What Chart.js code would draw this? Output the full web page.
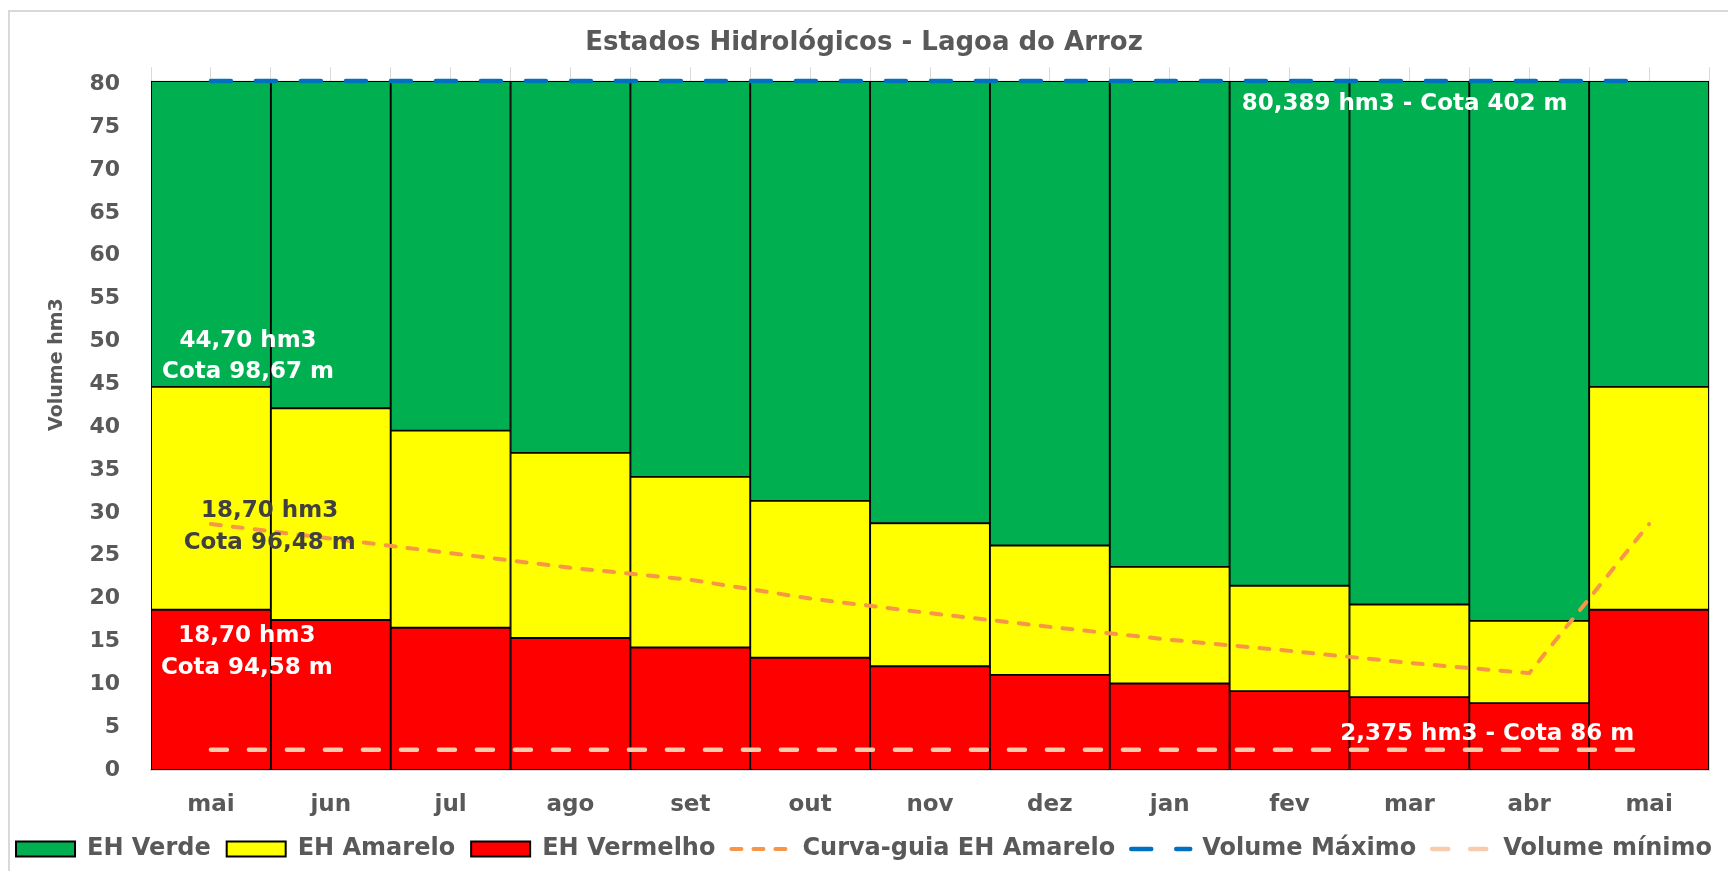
<!DOCTYPE html>
<html>
<head>
<meta charset="utf-8">
<script src="https://cdn.jsdelivr.net/npm/chart.js@4"></script>
<style>
  html, body { margin: 0; padding: 0; background: #fff; overflow: hidden; }
  canvas { display: block; }
</style>
</head>
<body>
<canvas id="ehChart" width="1728" height="871"></canvas>
<script>
// months (May to May)
const meses = ['mai', 'jun', 'jul', 'ago', 'set', 'out', 'nov', 'dez', 'jan', 'fev', 'mar', 'abr', 'mai'];

// stacked states (hm3)
const ehVermelho = [18.70, 17.5, 16.6, 15.4, 14.3, 13.1, 12.1, 11.1, 10.1, 9.2, 8.5, 7.8, 18.70];
const ehAmarelo = [26.00, 24.7, 23.0, 21.6, 19.9, 18.3, 16.7, 15.1, 13.6, 12.3, 10.8, 9.6, 26.00];
const ehVerde = [35.689, 38.189, 40.789, 43.389, 46.189, 48.989, 51.589, 54.189, 56.689, 58.889, 61.089, 62.989, 35.689];

// reference lines
const curvaGuia = [28.70, 27.0, 25.3, 23.6, 22.2, 20.0, 18.3, 16.7, 15.2, 13.9, 12.5, 11.3, 28.70];
const volumeMaximo = [80.389, 80.389, 80.389, 80.389, 80.389, 80.389, 80.389, 80.389, 80.389, 80.389, 80.389, 80.389, 80.389];
const volumeMinimo = [2.375, 2.375, 2.375, 2.375, 2.375, 2.375, 2.375, 2.375, 2.375, 2.375, 2.375, 2.375, 2.375];

const yMax = 82;
const yStep = 5;

const cinza = '#595959';
Chart.defaults.font.family = "'DejaVu Sans', sans-serif";

// text notes: category index / value where each one sits
const notas = [
    { text: '44,70 hm3', x: 0.31, y: 50.1, color: '#ffffff' },
    { text: 'Cota 98,67 m', x: 0.31, y: 46.4, color: '#ffffff' },
    { text: '18,70 hm3', x: 0.49, y: 30.2, color: '#404040' },
    { text: 'Cota 96,48 m', x: 0.49, y: 26.5, color: '#404040' },
    { text: '18,70 hm3', x: 0.30, y: 15.6, color: '#ffffff' },
    { text: 'Cota 94,58 m', x: 0.30, y: 11.9, color: '#ffffff' },
    { text: '80,389 hm3 - Cota 402 m', x: 9.96, y: 77.7, color: '#ffffff' },
    { text: '2,375 hm3 - Cota 86 m', x: 10.65, y: 4.2, color: '#ffffff' }
];

const notasPlugin = {
    id: 'notas',
    beforeDraw(chart) {
        const ctx = chart.ctx;
        ctx.save();
        ctx.strokeStyle = '#d9d9d9';
        ctx.lineWidth = 2;
        ctx.beginPath();
        ctx.moveTo(9, chart.height);
        ctx.lineTo(9, 11);
        ctx.lineTo(chart.width, 11);
        ctx.stroke();
        ctx.restore();
    },
    afterDatasetsDraw(chart) {
        const ctx = chart.ctx;
        const xs = chart.scales.x;
        const ys = chart.scales.y;
        ctx.save();
        ctx.font = "bold 23px 'DejaVu Sans'";
        ctx.textAlign = 'center';
        ctx.textBaseline = 'middle';
        notas.forEach(n => {
            ctx.fillStyle = n.color;
            ctx.fillText(n.text, xs.getPixelForValue(n.x), ys.getPixelForValue(n.y));
        });
        // axis title
        ctx.translate(chart.chartArea.left - 94, ys.getPixelForValue(47.3));
        ctx.rotate(-Math.PI / 2);
        ctx.font = "bold 19px 'DejaVu Sans'";
        ctx.fillStyle = cinza;
        ctx.fillText('Volume hm3', 0, 0);
        ctx.restore();
    }
};

const ctx = document.getElementById('ehChart').getContext('2d');
const chart = new Chart(ctx, {
    data: {
        labels: meses,
        datasets: [
            {
                type: 'bar', label: 'EH Vermelho', data: ehVermelho, order: 1,
                backgroundColor: '#FF0000', borderColor: '#000000', borderWidth: 1.3, borderSkipped: false,
                barPercentage: 1, categoryPercentage: 1
            },
            {
                type: 'bar', label: 'EH Amarelo', data: ehAmarelo, order: 1,
                backgroundColor: '#FFFF00', borderColor: '#000000', borderWidth: 1.3, borderSkipped: false,
                barPercentage: 1, categoryPercentage: 1
            },
            {
                type: 'bar', label: 'EH Verde', data: ehVerde, order: 1,
                backgroundColor: '#00B050', borderColor: '#000000', borderWidth: 1.3, borderSkipped: false,
                barPercentage: 1, categoryPercentage: 1
            },
            {
                type: 'line', label: 'Curva-guia EH Amarelo', data: curvaGuia, order: 0, stack: 'curva',
                borderColor: '#F79646', backgroundColor: '#F79646', borderWidth: 4,
                borderDash: [10, 12], borderCapStyle: 'round', pointRadius: 0, tension: 0
            },
            {
                type: 'line', label: 'Volume Máximo', data: volumeMaximo, order: 0, stack: 'max',
                borderColor: '#0070C0', backgroundColor: '#0070C0', borderWidth: 4.5,
                borderDash: [20, 25], borderCapStyle: 'round', pointRadius: 0
            },
            {
                type: 'line', label: 'Volume mínimo', data: volumeMinimo, order: 0, stack: 'min',
                borderColor: '#F8CBAD', backgroundColor: '#F8CBAD', borderWidth: 4.5,
                borderDash: [16, 22], borderCapStyle: 'round', pointRadius: 0
            }
        ]
    },
    options: {
        responsive: false,
        animation: false,
        layout: { padding: { top: 0, left: 0, right: 0, bottom: 0 } },
        plugins: {
            title: {
                display: true,
                text: 'Estados Hidrológicos - Lagoa do Arroz',
                color: cinza,
                font: { size: 26, weight: 'bold' },
                padding: { top: 28, bottom: 8 }
            },
            legend: {
                position: 'bottom',
                labels: {
                    usePointStyle: true,
                    pointStyleWidth: 59,
                    boxHeight: 15,
                    padding: 16,
                    color: cinza,
                    font: { size: 24, weight: 'bold' },
                    generateLabels(chart) {
                        return [2, 1, 0, 3, 4, 5].map(i => {
                            const ds = chart.data.datasets[i];
                            const isBar = ds.type === 'bar';
                            return {
                                text: ds.label,
                                datasetIndex: i,
                                fillStyle: ds.backgroundColor,
                                strokeStyle: isBar ? '#000000' : ds.borderColor,
                                lineWidth: isBar ? 2 : ds.borderWidth,
                                lineDash: isBar ? [] : ds.borderDash,
                                lineCap: isBar ? 'butt' : 'round',
                                pointStyle: isBar ? 'rect' : 'line',
                                fontColor: cinza,
                                hidden: false
                            };
                        });
                    }
                }
            },
            tooltip: { enabled: false }
        },
        scales: {
            x: {
                stacked: true,
                offset: true,
                grid: { offset: true, color: '#d9d9d9', drawTicks: false },
                border: { display: true, color: '#d9d9d9', width: 2 },
                ticks: { color: cinza, font: { size: 23, weight: 'bold' }, padding: 21 },
                afterFit(scale) { scale.height = 51; }
            },
            x2: {
                type: 'category',
                position: 'bottom',
                offset: true,
                grid: { offset: false, color: '#d9d9d9', drawTicks: false },
                border: { display: false },
                ticks: { display: false },
                afterFit(scale) { scale.height = 0; }
            },
            y: {
                stacked: true,
                min: 0,
                max: yMax,
                grid: { display: false, drawTicks: false },
                border: { display: false },
                ticks: {
                    stepSize: yStep,
                    includeBounds: false,
                    padding: 31,
                    color: cinza,
                    font: { size: 22, weight: 'bold' }
                },
                afterFit(scale) { scale.width = 151; }
            },
            // empty right margin so the legend can use the full width
            yRight: {
                position: 'right',
                grid: { display: false, drawTicks: false },
                border: { display: false },
                ticks: { display: false },
                afterFit(scale) { scale.width = 19; }
            }
        }
    },
    plugins: [notasPlugin]
});
</script>
</body>
</html>
